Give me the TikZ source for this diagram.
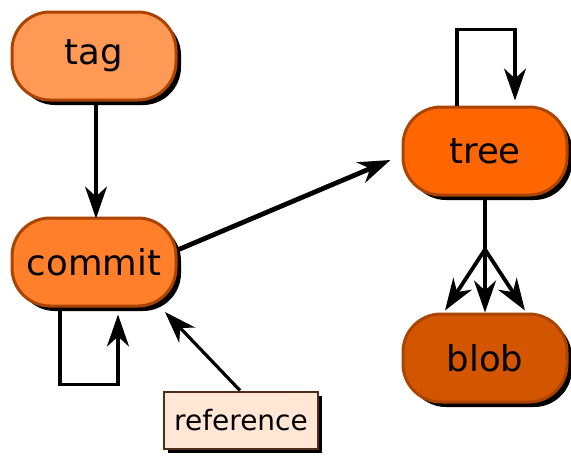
\documentclass[tikz,border=0pt]{standalone}
\usepackage{fontspec}
\setmainfont{DejaVu Sans}
\usetikzlibrary{arrows.meta,shadows,calc}
\definecolor{tagfill}{HTML}{FF9955}
\definecolor{commitfill}{HTML}{FF7F2A}
\definecolor{treefill}{HTML}{FF6600}
\definecolor{blobfill}{HTML}{D45500}
\definecolor{objborder}{HTML}{AA4400}
\definecolor{reffill}{HTML}{FFE6D5}
\definecolor{refborder}{HTML}{502D16}
\begin{document}
\begin{tikzpicture}[x=1pt,y=-1pt,
  obj/.style={draw=objborder, line width=3pt, rounded corners=38pt,
    minimum width=164pt, minimum height=88pt, inner sep=0pt,
    font=\fontsize{35.5}{40}\selectfont,
    drop shadow={shadow xshift=5pt, shadow yshift=-5pt, opacity=1, fill=black}},
  refbox/.style={draw=refborder, line width=2pt, fill=reffill,
    minimum width=154pt, minimum height=57pt, inner sep=0pt,
    font=\fontsize{28}{32}\selectfont,
    drop shadow={shadow xshift=4pt, shadow yshift=-4pt, opacity=1, fill=black}},
  link/.style={line width=3.8pt, -{Stealth[length=32pt,width=22pt,inset=10pt]}},
  plain/.style={line width=3.8pt}
]
\useasboundingbox (0,0) rectangle (571,456);

\node[obj, fill=tagfill]    (tag)    at (94,56)   {tag};
\node[obj, fill=commitfill] (commit) at (94,262)  {commit};
\node[obj, fill=treefill]   (tree)   at (485,151) {tree};
\node[obj, fill=blobfill]   (blob)   at (485,358) {blob};
\node[refbox]               (ref)    at (241,420) {reference};

% tag points at its commit
\draw[link, line width=3.2pt] ([xshift=2pt]tag.south) -- ([xshift=2pt,yshift=-2pt]commit.north);

% commit points at its tree
\draw[link, line width=4.8pt] ([shift={(0,-12)}]commit.east)
  -- ([shift={(-11,9)}]tree.west);

% commit has parent commits
\draw[link] ([xshift=-34pt]commit.south) -- ++(0,77) -| ([shift={(24,7)}]commit.south);

% a reference points at a commit
\draw[link, line width=3.2pt] ([xshift=-1pt]ref.north) -- ([shift={(71,50)}]commit.center);

% tree holds sub-trees
\draw[link] ([xshift=-28pt]tree.north) -- ++(0,-76) -| ([shift={(30,-5)}]tree.north);

% tree holds blobs
\coordinate (fork) at ($(tree.south)+(0,53)$);
\draw[plain] (tree.south) -- (fork);
\draw[link] (fork) -- ([xshift=-40pt,yshift=2pt]blob.north);
\draw[link] (fork) -- (blob.north);
\draw[link] (fork) -- ([xshift=40pt,yshift=2pt]blob.north);
\end{tikzpicture}
\end{document}
